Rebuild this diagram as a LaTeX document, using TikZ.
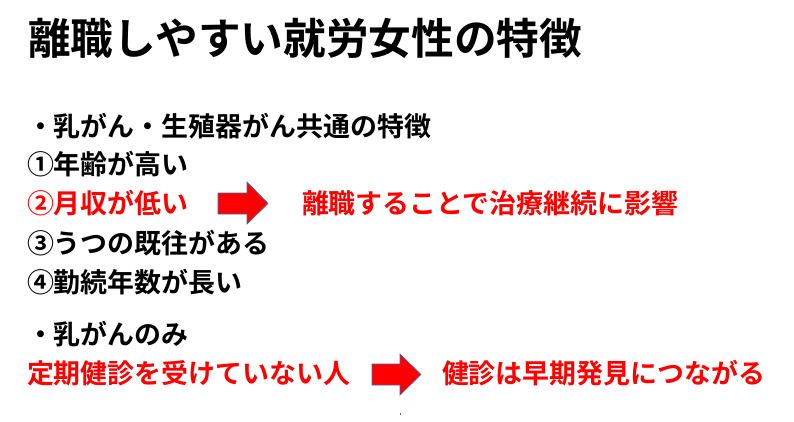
\documentclass[tikz,border=0pt]{standalone}
\usepackage{fontspec}
\setmainfont{Noto Sans CJK JP Bold}
\usepackage{xcolor}
\usetikzlibrary{positioning,calc}

\definecolor{slidered}{RGB}{255,0,0}
\definecolor{arrowline}{RGB}{68,104,160}

\begin{document}
\begin{tikzpicture}[x=0.75pt,y=-0.75pt,
every node/.style={inner sep=0pt,outer sep=0pt,anchor=west,text height=1.1em,text depth=0pt},
title/.style={font=\fontsize{32}{36}\selectfont},
item/.style={font=\fontsize{20.2}{24}\selectfont,text=black},
hot/.style={item,text=slidered},
blockarr/.style={fill=slidered,draw=arrowline,line width=0.5pt,line join=miter}]

\useasboundingbox (0,0) rectangle (794,422);

%title
\node[title] (title) at (28,47) {離職しやすい就労女性の特徴};

%common features
\node[item] (common) at (27,129) {・乳がん・生殖器がん共通の特徴};
\node[item] (age) at (27,167) {①年齢が高い};
\node[hot] (income) at (27,206) {②月収が低い};
\node[hot] (quit) at (302,206) {離職することで治療継続に影響};
\node[item] (depr) at (27,246) {③うつの既往がある};
\node[item] (tenure) at (27,285) {④勤続年数が長い};

%breast cancer only
\node[item] (breast) at (27,337) {・乳がんのみ};
\node[hot] (checkup) at (27,376) {定期健診を受けていない人};
\node[hot] (early) at (442,376) {健診は早期発見につながる};

%block arrows
\draw[blockarr] (218,193) -- (247,193) -- (247,182) -- (268,203.5)
  -- (247,224) -- (247,214) -- (218,214) -- cycle;
\draw[blockarr] (372,364) -- (400,364) -- (400,354) -- (421,374.5)
  -- (400,395) -- (400,385) -- (372,385) -- cycle;

\fill[arrowline] (399.5,413) rectangle (401,415);

\end{tikzpicture}
\end{document}
